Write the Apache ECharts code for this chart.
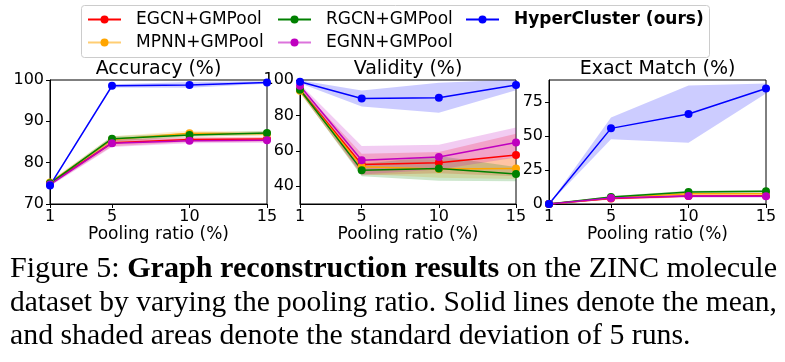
<!DOCTYPE html>
<html><head><meta charset="utf-8">
<script src="https://cdn.jsdelivr.net/npm/echarts@6/dist/echarts.min.js"></script>
<style>html,body{margin:0;padding:0;background:#fff}#c{width:785px;height:362px}</style>
</head><body><div id="c"></div>
<script>
// ---- data ----
const poolingRatios = [1, 5, 10, 15];
const methods = ['EGCN+GMPool', 'MPNN+GMPool', 'RGCN+GMPool', 'EGNN+GMPool', 'HyperCluster (ours)'];
const methodColors = ['#ff0000', '#ffa500', '#008000', '#bf00bf', '#0000ff'];
const panelTitles = ['Accuracy (%)', 'Validity (%)', 'Exact Match (%)'];
const xAxisName = 'Pooling ratio (%)';
const xTicks = [1, 5, 10, 15];

// rows follow `methods`
const accuracyMean = [
  [74.9, 84.8, 85.6, 85.7],
  [75.2, 85.6, 87.1, 87.0],
  [75.0, 85.8, 86.7, 87.2],
  [74.7, 84.7, 85.3, 85.4],
  [74.5, 98.6, 98.8, 99.4]
];
const accuracyStd = [
  [0.4, 0.8, 0.6, 0.6],
  [0.4, 0.8, 0.6, 0.5],
  [0.4, 0.6, 0.5, 0.5],
  [0.4, 0.9, 0.6, 0.6],
  [0.3, 0.4, 0.7, 0.3]
];
const validityMean = [
  [94.5, 52.3, 53.3, 57.6],
  [94.0, 51.0, 49.8, 50.1],
  [94.5, 49.1, 50.1, 46.9],
  [96.8, 54.7, 56.5, 64.7],
  [99.0, 89.6, 90.0, 97.2]
];
const validityStd = [
  [1.5, 6.0, 6.0, 12.0],
  [1.5, 4.0, 5.0, 6.0],
  [1.5, 3.5, 7.0, 4.0],
  [1.0, 8.0, 7.0, 8.5],
  [0.8, 4.5, 8.5, 3.0]
];
const exactMean = [
  [0, 4.0, 5.8, 6.0],
  [0, 4.5, 7.5, 7.5],
  [0, 5.1, 8.8, 9.3],
  [0, 4.4, 5.8, 5.6],
  [0, 55.5, 66.0, 84.8]
];
const exactStd = [
  [0, 0.8, 0.8, 0.8],
  [0, 1.0, 1.0, 1.0],
  [0, 0.8, 1.0, 1.0],
  [0, 1.0, 1.0, 1.0],
  [0, 8.0, 21.0, 3.7]
];
const accuracyYTicks = [70, 80, 90, 100];
const validityYTicks = [40, 60, 80, 100];
const exactYTicks = [0, 25, 50, 75];

const captionLines = [
  [['Figure 5: ', false], ['Graph reconstruction results', true], [' on the ZINC molecule', false]],
  [['dataset by varying the pooling ratio. Solid lines denote the mean,', false]],
  [['and shaded areas denote the standard deviation of 5 runs.', false]]
];

// ---- layout ----
const FONT = 'DejaVu Sans';
const grids = [
  { left: 50, top: 80, width: 217, height: 124 },
  { left: 300, top: 80, width: 216, height: 124 },
  { left: 549, top: 80, width: 217, height: 124 }
];
const yRanges = [[70, 100], [30, 100], [0, 91]];
const panelMeans = [accuracyMean, validityMean, exactMean];
const panelStds = [accuracyStd, validityStd, exactStd];
const panelYTicks = [accuracyYTicks, validityYTicks, exactYTicks];

const chart = echarts.init(document.getElementById('c'), null, { renderer: 'canvas' });

function bandRenderer(color) {
  return function (params, api) {
    if (params.dataIndexInside !== 0) return null;
    const n = params.dataInsideLength;
    const upper = [], lower = [];
    for (let i = 0; i < n; i++) {
      const x = api.value(0, i);
      upper.push(api.coord([x, api.value(2, i)]));
      lower.push(api.coord([x, api.value(1, i)]));
    }
    return {
      type: 'polygon',
      shape: { points: upper.concat(lower.reverse()) },
      style: { fill: color, opacity: 0.2 }
    };
  };
}

const xAxes = [], yAxes = [], gridOpts = [], series = [];
grids.forEach((g, p) => {
  gridOpts.push(Object.assign({ show: true, borderColor: '#000', borderWidth: 1, backgroundColor: 'transparent', containLabel: false, outerBoundsMode: 'none' }, g));
  xAxes.push({
    type: 'value', gridIndex: p, min: 1, max: 15,
    name: xAxisName, nameLocation: 'middle', nameGap: 21,
    nameTextStyle: { fontFamily: FONT, fontSize: 17, color: '#000' },
    axisLine: { show: true, lineStyle: { color: '#000', width: 1 } },
    axisTick: { show: true, length: 4, customValues: xTicks, lineStyle: { color: '#000' } },
    axisLabel: { customValues: xTicks, margin: 5, fontFamily: FONT, fontSize: 16, color: '#000' },
    splitLine: { show: false }
  });
  yAxes.push({
    type: 'value', gridIndex: p, min: yRanges[p][0], max: yRanges[p][1],
    axisLine: { show: true, lineStyle: { color: '#000', width: 1 } },
    axisTick: { show: true, length: 4, customValues: panelYTicks[p], lineStyle: { color: '#000' } },
    axisLabel: { customValues: panelYTicks[p], margin: 6, fontFamily: FONT, fontSize: 16, color: '#000' },
    splitLine: { show: false }
  });
  methods.forEach((m, k) => {
    const mean = panelMeans[p][k], sd = panelStds[p][k];
    series.push({
      type: 'custom', name: '_band' + p + '_' + k, xAxisIndex: p, yAxisIndex: p,
      data: poolingRatios.map((x, i) => [x, mean[i] - sd[i], mean[i] + sd[i]]),
      encode: { x: 0, y: [1, 2] },
      renderItem: bandRenderer(methodColors[k]),
      clip: true, silent: true, z: 1, animation: false
    });
  });
});
grids.forEach((g, p) => {
  methods.forEach((m, k) => {
    series.push({
      type: 'line', name: m, xAxisIndex: p, yAxisIndex: p,
      data: poolingRatios.map((x, i) => [x, panelMeans[p][k][i]]),
      symbol: 'circle', symbolSize: 8, showSymbol: true,
      lineStyle: { color: methodColors[k], width: 1.5 },
      itemStyle: { color: methodColors[k] },
      z: 3, animation: false
    });
  });
});

const legendCommon = {
  orient: 'vertical', top: 11, padding: 0, itemWidth: 33, itemHeight: 10, itemGap: 6,
  selectedMode: false,
  textStyle: { fontFamily: FONT, fontSize: 17, color: '#000', padding: [0, 0, 0, 10] }
};
const legends = [
  Object.assign({}, legendCommon, { left: 87, data: [{ name: methods[0] }, { name: methods[1], lineStyle: { opacity: 0.55 } }] }),
  Object.assign({}, legendCommon, { left: 277, data: [{ name: methods[2] }, { name: methods[3], lineStyle: { opacity: 0.55 } }] }),
  Object.assign({}, legendCommon, { left: 465, data: [{ name: methods[4], textStyle: { fontWeight: 'bold' } }] })
];

// titles + caption as graphic text
const graphics = [{
  type: 'rect', z: 0, shape: { x: 81.5, y: 5.5, width: 628, height: 52, r: 3 },
  style: { fill: '#fff', stroke: '#cccccc', lineWidth: 1 }
}];
grids.forEach((g, p) => {
  graphics.push({
    type: 'text', x: g.left + g.width / 2, y: 69,
    style: { text: panelTitles[p], fontFamily: FONT, fontSize: 19, fill: '#000', align: 'center', verticalAlign: 'middle' }
  });
});
const ctx = document.createElement('canvas').getContext('2d');
function measure(t, bold) { ctx.font = (bold ? 'bold ' : '') + '30px "Liberation Serif"'; return ctx.measureText(t).width; }
const lineWidths = captionLines.map(l => l.reduce((s, seg) => s + measure(seg[0], seg[1]), 0));
const s1 = 767 / lineWidths[0], s2 = 767 / lineWidths[1];
const scales = [s1, s2, (s1 + s2) / 2];
const baselines = [279, 313, 346];
captionLines.forEach((l, i) => {
  const txt = l.map(seg => '{' + (seg[1] ? 'b' : 'r') + '|' + seg[0] + '}').join('');
  graphics.push({
    type: 'text', x: 10, y: baselines[i] - 10, scaleX: scales[i],
    style: {
      text: txt, fill: '#000', verticalAlign: 'middle', align: 'left',
      rich: {
        r: { fontFamily: 'Liberation Serif', fontSize: 30, fill: '#000' },
        b: { fontFamily: 'Liberation Serif', fontSize: 30, fontWeight: 'bold', fill: '#000' }
      }
    }
  });
});

chart.setOption({
  animation: false,
  backgroundColor: '#fff',
  grid: gridOpts, xAxis: xAxes, yAxis: yAxes, series: series,
  legend: legends, graphic: graphics
});
</script></body></html>
